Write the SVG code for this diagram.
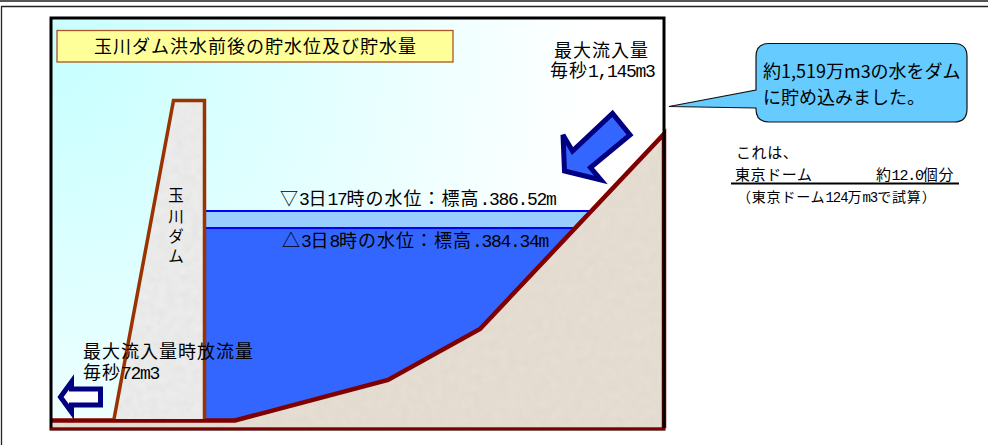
<svg xmlns="http://www.w3.org/2000/svg" width="988" height="445" viewBox="0 0 988 445">
<style>
text{font-family:"Noto Sans CJK JP","Liberation Sans",sans-serif;fill:#000}
.l{font-size:18px;letter-spacing:1px}
.s{font-size:15px;letter-spacing:.6px}
.l tspan{font-family:"Liberation Mono",monospace;letter-spacing:-1.3px}
.s tspan{font-family:"Liberation Mono",monospace;letter-spacing:-1.2px}
.d{font-size:15.500px}
.c{font-size:18px}
.arrow{stroke:#000080;stroke-width:5;stroke-linejoin:miter}
.w{stroke:#0000ff;stroke-width:2}
</style>
<defs>
<radialGradient id="sky" gradientUnits="userSpaceOnUse" cx="60" cy="60" r="530">
<stop offset="0" stop-color="#c8ffff"/><stop offset="1" stop-color="#ffffff"/>
</radialGradient>
<filter id="grain" x="0" y="0" width="100%" height="100%">
<feTurbulence type="fractalNoise" baseFrequency="0.12" numOctaves="3" seed="4"/>
<feColorMatrix values="0 0 0 0 0.6 0 0 0 0 0.58 0 0 0 0 0.55 0.25 0.25 0 0 -0.17"/>
<feComposite in2="SourceAlpha" operator="in"/>
<feMerge><feMergeNode in="SourceGraphic"/><feMergeNode/></feMerge>
</filter>
</defs>
<rect width="988" height="445" fill="#fff"/>
<path d="M0 1H988" stroke="#555" stroke-width="2"/>
<path d="M1.500 445V6.500H988" fill="none" stroke="#222" stroke-width="1.300"/>
<g id="scene">
<rect x="51" y="18" width="613" height="411" fill="url(#sky)"/>
</g>
<g id="water">
<path d="M205 211H592L576 228H205Z" fill="#99ccff"/>
<path d="M205 228H576L480 329 388 380 235 421H205Z" fill="#3366ff"/>
<path class="w" d="M205 211H590M205 228H574" fill="none"/>
</g>
<g id="ground">
<path d="M235 421 388 380 480 329 664 133V429H52V421Z" fill="#e6ded2" filter="url(#grain)"/>
<path d="M52 420.500H235L388 380 480 329 664 134V428" fill="none" stroke="#800000" stroke-width="4.500"/>
</g>
<g id="dam">
<path d="M173.500 100.500H204.500V419H114Z" fill="#ececec" filter="url(#grain)"/>
<path d="M114 419 173.500 100.500H204.500V419" fill="none" stroke="#993300" stroke-width="3.500"/>
<text class="d" x="176" y="201" text-anchor="middle">玉</text>
<text class="d" x="176" y="222" text-anchor="middle">川</text>
<text class="d" x="176" y="242" text-anchor="middle">ダ</text>
<text class="d" x="176" y="262" text-anchor="middle">ム</text>
</g>
<rect x="51" y="18" width="613" height="411" fill="none" stroke="#000" stroke-width="3"/>
<path d="M50 429H665" stroke="#800000" stroke-width="2.500"/>
<g id="title">
<rect x="57" y="30.500" width="396" height="31.500" fill="#ffff99" stroke="#aa5522" stroke-width="1.300"/>
<text class="l" x="94" y="53">玉川ダム洪水前後の貯水位及び貯水量</text>
</g>
<g id="level-high"><text class="l" x="280" y="205">▽<tspan>3</tspan>日<tspan>17</tspan>時の水位：標高<tspan>.386.52m</tspan></text></g>
<g id="level-low"><text class="l" x="282" y="247">△<tspan>3</tspan>日<tspan>8</tspan>時の水位：標高<tspan>.384.34m</tspan></text></g>
<g id="inflow-label">
<text class="l" x="554" y="57">最大流入量</text>
<text class="l" x="550" y="77">毎秒<tspan>1,145m3</tspan></text>
</g>
<g id="outflow-label">
<text class="l" x="83" y="358">最大流入量時放流量</text>
<text class="l" x="83" y="379">毎秒<tspan>72m3</tspan></text>
</g>
<g id="connectors">
<path class="arrow" fill="#3366ff" d="M563 135 572.500 151 612.500 113.500 630 135 590.500 167.500 601 180 564.500 171Z"/>
<path class="arrow" fill="#ffffff" d="M60.500 397 71.500 382V389H100.500V405H71.500V412Z"/>
</g>
<g id="callout">
<path d="M769 43.500H954Q967 43.500 967 56.500V109Q967 122 954 122H769Q756 122 756 109V108L669 106.500 756 90V56.500Q756 43.500 769 43.500Z" fill="#66ccff" stroke="#111" stroke-width="1.200"/>
<text class="c" x="763" y="78">約1,519万m3の水をダム</text>
<text class="c" x="763" y="104">に貯め込みました。</text>
</g>
<g id="dome-note">
<text class="s" x="736" y="158">これは、</text>
<text class="s" x="735" y="180">東京ドーム</text>
<text class="s" x="876" y="180">約<tspan>12.0</tspan>個分</text>
<path d="M731 183.500H959" stroke="#000" stroke-width="2"/>
<text class="s" x="737" y="202" style="font-size:14px;letter-spacing:.8px">（東京ドーム<tspan style="letter-spacing:-1px">124</tspan>万<tspan style="letter-spacing:-1px">m3</tspan>で試算）</text>
</g>
</svg>
